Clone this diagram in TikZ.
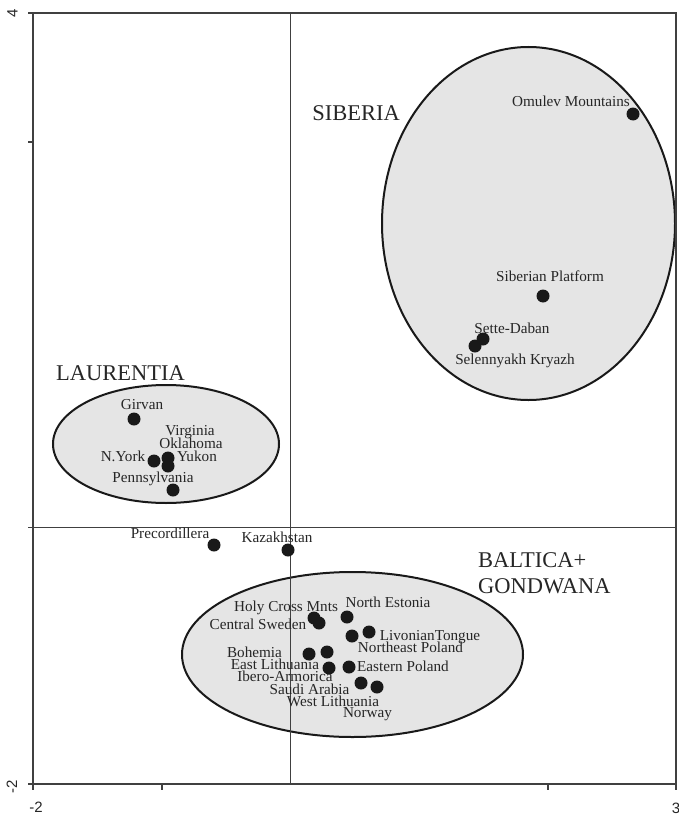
\documentclass[tikz,border=0pt]{standalone}
\usepackage{fontspec}
\setmainfont{Liberation Serif}
\newfontfamily\tickfont{Liberation Sans}
\begin{document}
\begin{tikzpicture}[x=1pt,y=-1pt,
  region/.style={draw=black!90,line width=2pt,fill=black!10},
  frameline/.style={draw=black!75,line width=1.2pt},
  axisline/.style={draw=black!75,line width=1pt},
  dot/.style={circle,fill=black!90,inner sep=0pt,minimum size=13pt},
  lbl/.style={anchor=base,inner sep=0pt,font=\fontsize{15.2}{17}\selectfont,text=black!85},
  big/.style={anchor=base west,inner sep=0pt,font=\fontsize{22.5}{26}\selectfont,text=black!85},
  ticklbl/.style={inner sep=0pt,font=\tickfont\fontsize{15}{17}\selectfont,text=black!85}]
\useasboundingbox (0,0) rectangle (679,816);
% regions
\path[region] (166,444) ellipse [x radius=113, y radius=59];
\path[region] (528.5,223.5) ellipse [x radius=146.5, y radius=176.5];
\path[region] (352.5,654.5) ellipse [x radius=170.5, y radius=82.5];
% frame and axes
\coordinate (tl) at (33,13); \coordinate (br) at (676,784);
\draw[frameline] (tl) rectangle (br);
\coordinate (xa) at (33,527.5); \coordinate (xb) at (676,527.5);
\coordinate (ya) at (290,13); \coordinate (yb) at (290,784);
\draw[axisline] (xa) -- (xb);
\draw[axisline] (ya) -- (yb);
% ticks
\foreach \yy in {13,142,527.5,784} \draw[frameline] (28,\yy) -- (33,\yy);
\foreach \xx in {33,162,548,676} \draw[frameline] (\xx,784) -- (\xx,790);
\node[ticklbl,rotate=90] (t4) at (12.5,13.5) {4};
\node[ticklbl,rotate=90] (tm2) at (12,787) {-2};
\node[ticklbl] (xm2) at (36,807) {-2};
\node[ticklbl] (x3) at (676,808) {3};
% group titles
\node[big,anchor=base] (tsib) at (356,120) {SIBERIA};
\node[big,anchor=base] (tlaur) at (120.5,380) {LAURENTIA};
\node[big] (tbal1) at (478,567) {BALTICA+};
\node[big] (tbal2) at (478,593) {GONDWANA};
% dots
\node[dot] (d1) at (134,419) {};
\node[dot] (d2) at (154,461) {};
\node[dot] (d3) at (168,458) {};
\node[dot] (d4) at (168,466) {};
\node[dot] (d5) at (173,490) {};
\node[dot] (d6) at (214,545) {};
\node[dot] (d7) at (288,550) {};
\node[dot] (d8) at (633,114) {};
\node[dot] (d9) at (543,296) {};
\node[dot] (d10) at (483,339) {};
\node[dot] (d11) at (475,346) {};
\node[dot] (d12) at (314,618) {};
\node[dot] (d13) at (319,623) {};
\node[dot] (d14) at (347,617) {};
\node[dot] (d15) at (352,636) {};
\node[dot] (d16) at (369,632) {};
\node[dot] (d17) at (309,654) {};
\node[dot] (d18) at (327,652) {};
\node[dot] (d19) at (329,668) {};
\node[dot] (d20) at (349,667) {};
\node[dot] (d21) at (361,683) {};
\node[dot] (d22) at (377,687) {};
% labels
\node[lbl] (l1) at (142,409) {Girvan};
\node[lbl] (l2) at (190,435) {Virginia};
\node[lbl] (l3) at (191,448) {Oklahoma};
\node[lbl] (l4) at (123,461) {N.York};
\node[lbl] (l5) at (197,461) {Yukon};
\node[lbl] (l6) at (153,482) {Pennsylvania};
\node[lbl] (l7) at (170,538) {Precordillera};
\node[lbl] (l8) at (277,542) {Kazakhstan};
\node[lbl] (l9) at (571,106) {Omulev Mountains};
\node[lbl] (l10) at (550,281) {Siberian Platform};
\node[lbl] (l11) at (512,333) {Sette-Daban};
\node[lbl] (l12) at (515,364) {Selennyakh Kryazh};
\node[lbl] (l13) at (286,611) {Holy Cross Mnts};
\node[lbl] (l14) at (388,607) {North Estonia};
\node[lbl] (l15) at (258,629) {Central Sweden};
\node[lbl] (l16) at (430,640) {LivonianTongue};
\node[lbl] (l17) at (410.5,652) {Northeast Poland};
\node[lbl] (l18) at (254.5,657) {Bohemia};
\node[lbl] (l19) at (275,669) {East Lithuania};
\node[lbl] (l20) at (403,671) {Eastern Poland};
\node[lbl] (l21) at (285,681) {Ibero-Armorica};
\node[lbl] (l22) at (309.5,694) {Saudi Arabia};
\node[lbl] (l23) at (333,706) {West Lithuania};
\node[lbl] (l24) at (367.5,717) {Norway};
\end{tikzpicture}
\end{document}
